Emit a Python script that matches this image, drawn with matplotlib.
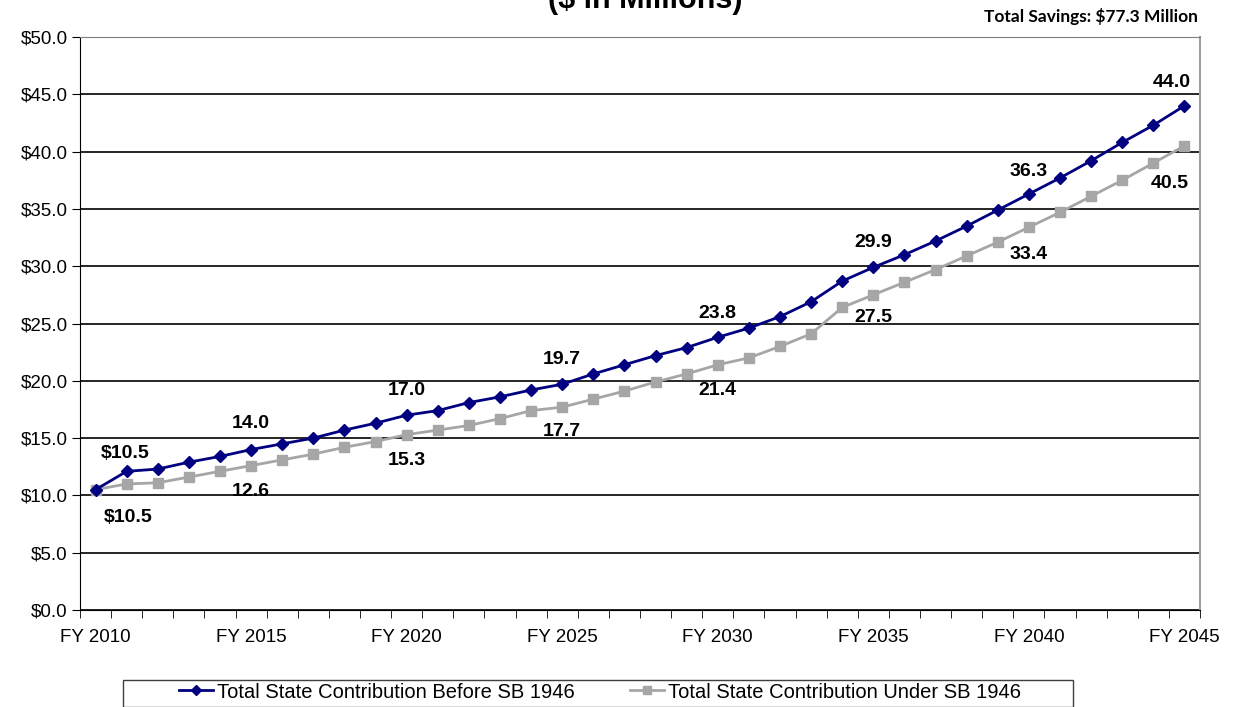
import numpy as np
import matplotlib.pyplot as plt
from matplotlib.patches import Rectangle
from matplotlib.ticker import FuncFormatter

plt.rcParams['font.family'] = ['Liberation Sans', 'DejaVu Sans']

years = ['FY %d' % y for y in range(2010, 2046)]
before = [10.5, 12.1, 12.3, 12.9, 13.4, 14.0, 14.5, 15.0, 15.7, 16.3,
          17.0, 17.4, 18.1, 18.6, 19.2, 19.7, 20.6, 21.4, 22.2, 22.9,
          23.8, 24.6, 25.6, 26.9, 28.7, 29.9, 31.0, 32.2, 33.5, 34.9,
          36.3, 37.7, 39.2, 40.8, 42.3, 44.0]
under = [10.5, 11.0, 11.1, 11.6, 12.1, 12.6, 13.1, 13.6, 14.2, 14.7,
         15.3, 15.7, 16.1, 16.7, 17.4, 17.7, 18.4, 19.1, 19.9, 20.6,
         21.4, 22.0, 23.0, 24.1, 26.4, 27.5, 28.6, 29.7, 30.9, 32.1,
         33.4, 34.7, 36.1, 37.5, 39.0, 40.5]
label_idx = [0, 5, 10, 15, 20, 25, 30, 35]
before_labels = ['$10.5', '14.0', '17.0', '19.7', '23.8', '29.9', '36.3', '44.0']
under_labels = ['$10.5', '12.6', '15.3', '17.7', '21.4', '27.5', '33.4', '40.5']

fig = plt.figure(figsize=(12.37, 7.07), dpi=100)
ax = fig.add_axes([80/1237, 1-610/707, 1120/1237, 573/707])

x = np.arange(len(years))
ax.plot(x, before, color='#000080', lw=2, marker='D', ms=6.5,
        label='Total State Contribution Before SB 1946', zorder=4)
ax.plot(x, under, color='#a6a6a6', lw=2, marker='s', ms=7.5,
        label='Total State Contribution Under SB 1946', zorder=3)

# data labels (pixel offsets)
b_off = [(30, 36), (0, 26), (0, 25), (0, 25), (0, 24), (0, 25), (0, 23), (-13, 23)]
u_off = [(33, -28), (0, -26), (0, -26), (0, -24), (0, -26), (0, -23), (0, -27), (-15, -38)]
for i, t, o in zip(label_idx, before_labels, b_off):
    ax.annotate(t, (x[i], before[i]), xytext=(o[0]*0.72, o[1]*0.72),
                textcoords='offset points', ha='center', va='center',
                fontsize=14, fontweight='bold', zorder=5)
for i, t, o in zip(label_idx, under_labels, u_off):
    ax.annotate(t, (x[i], under[i]), xytext=(o[0]*0.72, o[1]*0.72),
                textcoords='offset points', ha='center', va='center',
                fontsize=14, fontweight='bold', zorder=5)

ax.set_xlim(-0.5, len(years) - 0.5)
ax.set_ylim(0, 50)
ax.set_yticks(np.arange(0, 51, 5))
ax.yaxis.set_major_formatter(FuncFormatter(lambda v, p: '$%.1f' % v))
ax.set_xticks(x[::5])
ax.set_xticklabels(years[::5])
ax.set_xticks(np.arange(-0.5, len(years)), minor=True)
ax.tick_params(axis='x', which='major', length=0, pad=14, labelsize=13.5)
ax.tick_params(axis='x', which='minor', length=6, direction='out', color='black')
ax.tick_params(axis='y', length=6, direction='out', labelsize=13.5, pad=3)
ax.grid(axis='y', color='black', lw=1.2)
ax.set_axisbelow(True)
ax.spines['left'].set_color('black')
ax.spines['bottom'].set_color('black')
ax.spines['top'].set_color('#7f7f7f')
ax.spines['right'].set_color('#a0a0a0')
ax.spines['right'].set_linewidth(1.5)

fig.text(645/1237, 1-8/707, '($ in Millions)', ha='center', va='baseline',
         fontsize=22, fontweight='bold')
fig.text(1198/1237, 1-22/707, 'Total Savings: $77.3 Million', ha='right',
         va='baseline', fontsize=12.5, fontweight='bold', family=['Lato', 'DejaVu Sans'])

# legend with a separate frame
fig.patches.append(Rectangle((123/1237, 0), (1073-123)/1237, 1-680/707,
                             transform=fig.transFigure, fill=False,
                             edgecolor='#404040', lw=1))
fig.legend(loc='center', bbox_to_anchor=(600/1237, 1-692/707), ncol=2,
           frameon=False, fontsize=14.5, handlelength=1.7, columnspacing=2.7,
           handletextpad=0.2, borderaxespad=0, markerscale=0.8)

fig.savefig('out.png', dpi=100)
